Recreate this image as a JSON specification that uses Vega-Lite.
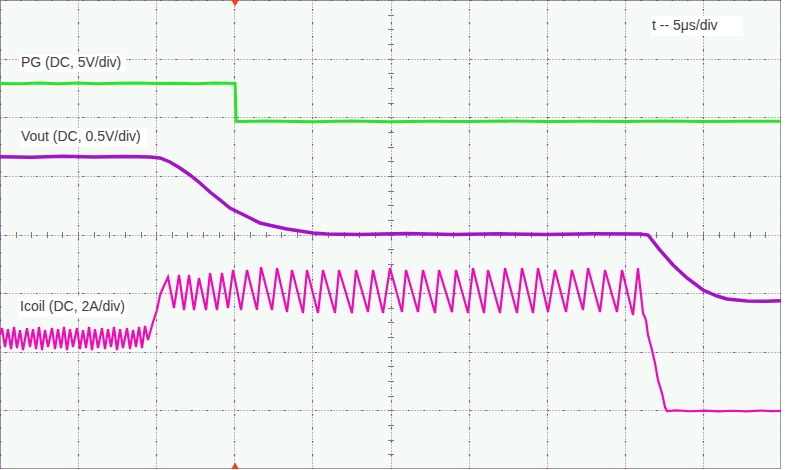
{
  "$schema": "https://vega.github.io/schema/vega-lite/v6.json",
  "width": 781,
  "height": 469,
  "autosize": {"type": "none"},
  "padding": 0,
  "background": "#ffffff",
  "view": {"fill": "#f6faf6", "stroke": "#7f7f7f", "strokeWidth": 1.5},
  "config": {
    "axis": {"labels": false, "ticks": false, "domain": false, "grid": false, "title": null}
  },
  "datasets": {
    "pg": [
      {"t": 0, "v": 2.577}, {"t": 1.3, "v": 2.57}, {"t": 2.5, "v": 2.585}, {"t": 3.7, "v": 2.572}, {"t": 5, "v": 2.583},
      {"t": 6.2, "v": 2.571}, {"t": 7.5, "v": 2.578}, {"t": 8.8, "v": 2.586}, {"t": 10, "v": 2.574}, {"t": 11.3, "v": 2.58},
      {"t": 12.5, "v": 2.571}, {"t": 13.8, "v": 2.584}, {"t": 15.05, "v": 2.577}, {"t": 15.12, "v": 1.928},
      {"t": 17, "v": 1.935}, {"t": 20, "v": 1.925}, {"t": 22.5, "v": 1.936}, {"t": 25, "v": 1.925}, {"t": 27.5, "v": 1.932},
      {"t": 30, "v": 1.926}, {"t": 32.5, "v": 1.934}, {"t": 35, "v": 1.926}, {"t": 37.5, "v": 1.933}, {"t": 40, "v": 1.927},
      {"t": 42.5, "v": 1.935}, {"t": 45, "v": 1.927}, {"t": 47.5, "v": 1.932}, {"t": 50, "v": 1.93}
    ],
    "vout": [
      {"t": 0, "v": 1.328}, {"t": 2, "v": 1.318}, {"t": 4, "v": 1.335}, {"t": 6, "v": 1.32}, {"t": 8, "v": 1.33},
      {"t": 9.6, "v": 1.323}, {"t": 10.24, "v": 1.305}, {"t": 10.88, "v": 1.237}, {"t": 11.52, "v": 1.135},
      {"t": 12.16, "v": 1.015}, {"t": 12.8, "v": 0.879}, {"t": 13.44, "v": 0.725}, {"t": 14.08, "v": 0.589},
      {"t": 14.72, "v": 0.452}, {"t": 15.36, "v": 0.367}, {"t": 16.01, "v": 0.282}, {"t": 16.65, "v": 0.196},
      {"t": 17.48, "v": 0.145}, {"t": 18.37, "v": 0.094}, {"t": 19.21, "v": 0.06}, {"t": 20.04, "v": 0.026},
      {"t": 20.93, "v": 0.009}, {"t": 23, "v": 0.0}, {"t": 26, "v": 0.015}, {"t": 29, "v": 0.0}, {"t": 32, "v": 0.012},
      {"t": 35, "v": 0.0}, {"t": 38, "v": 0.012}, {"t": 40.97, "v": 0.009}, {"t": 41.49, "v": -0.009},
      {"t": 42.25, "v": -0.265}, {"t": 43.09, "v": -0.52}, {"t": 43.98, "v": -0.742}, {"t": 45.01, "v": -0.947},
      {"t": 45.9, "v": -1.049}, {"t": 46.54, "v": -1.101}, {"t": 47.82, "v": -1.135}, {"t": 49, "v": -1.14}, {"t": 50, "v": -1.13}
    ],
    "icoil": [
      {"t": 0, "v": -1.715}, {"t": 0.128, "v": -1.596}, {"t": 0.32, "v": -1.92}, {"t": 0.512, "v": -1.613},
      {"t": 0.704, "v": -1.954}, {"t": 0.896, "v": -1.578}, {"t": 1.088, "v": -1.937}, {"t": 1.28, "v": -1.63},
      {"t": 1.472, "v": -1.971}, {"t": 1.729, "v": -1.596}, {"t": 1.921, "v": -1.92}, {"t": 2.113, "v": -1.613},
      {"t": 2.305, "v": -1.954}, {"t": 2.497, "v": -1.578}, {"t": 2.689, "v": -1.971}, {"t": 2.881, "v": -1.63},
      {"t": 3.073, "v": -1.92}, {"t": 3.329, "v": -1.596}, {"t": 3.521, "v": -1.954}, {"t": 3.713, "v": -1.613},
      {"t": 3.905, "v": -1.937}, {"t": 4.097, "v": -1.578}, {"t": 4.289, "v": -1.971}, {"t": 4.481, "v": -1.613},
      {"t": 4.673, "v": -1.92}, {"t": 4.93, "v": -1.596}, {"t": 5.122, "v": -1.954}, {"t": 5.314, "v": -1.63},
      {"t": 5.506, "v": -1.937}, {"t": 5.698, "v": -1.578}, {"t": 5.89, "v": -1.971}, {"t": 6.082, "v": -1.613},
      {"t": 6.274, "v": -1.937}, {"t": 6.53, "v": -1.596}, {"t": 6.722, "v": -1.954}, {"t": 6.914, "v": -1.613},
      {"t": 7.106, "v": -1.92}, {"t": 7.298, "v": -1.578}, {"t": 7.49, "v": -1.971}, {"t": 7.682, "v": -1.613},
      {"t": 7.874, "v": -1.937}, {"t": 8.131, "v": -1.596}, {"t": 8.323, "v": -1.954}, {"t": 8.515, "v": -1.63},
      {"t": 8.707, "v": -1.92}, {"t": 8.899, "v": -1.578}, {"t": 9.091, "v": -1.937}, {"t": 9.283, "v": -1.561},
      {"t": 9.475, "v": -1.8}, {"t": 9.603, "v": -1.681}, {"t": 9.795, "v": -1.493}, {"t": 10.051, "v": -1.288},
      {"t": 10.243, "v": -1.032}, {"t": 10.435, "v": -0.913}, {"t": 10.755, "v": -0.725},
      {"t": 11.139, "v": -1.254}, {"t": 11.46, "v": -0.691}, {"t": 11.78, "v": -1.288}, {"t": 12.1, "v": -0.691},
      {"t": 12.42, "v": -1.288}, {"t": 12.74, "v": -0.742}, {"t": 13.188, "v": -1.288}, {"t": 13.444, "v": -0.657},
      {"t": 13.892, "v": -1.288}, {"t": 14.212, "v": -0.657}, {"t": 14.597, "v": -1.254}, {"t": 14.917, "v": -0.606},
      {"t": 15.429, "v": -1.288}, {"t": 15.813, "v": -0.606}, {"t": 16.453, "v": -1.288}, {"t": 16.709, "v": -0.555},
      {"t": 17.413, "v": -1.288}, {"t": 17.734, "v": -0.572}, {"t": 18.374, "v": -1.323}, {"t": 18.694, "v": -0.606},
      {"t": 19.398, "v": -1.34}, {"t": 19.654, "v": -0.606}, {"t": 20.358, "v": -1.34}, {"t": 20.678, "v": -0.606},
      {"t": 21.447, "v": -1.34}, {"t": 21.703, "v": -0.606}, {"t": 22.535, "v": -1.34}, {"t": 22.791, "v": -0.606},
      {"t": 23.559, "v": -1.323}, {"t": 23.879, "v": -0.606}, {"t": 24.52, "v": -1.34}, {"t": 24.968, "v": -0.572},
      {"t": 25.736, "v": -1.323}, {"t": 25.992, "v": -0.606}, {"t": 26.76, "v": -1.323}, {"t": 27.08, "v": -0.606},
      {"t": 27.849, "v": -1.34}, {"t": 28.105, "v": -0.606}, {"t": 28.937, "v": -1.323}, {"t": 29.193, "v": -0.606},
      {"t": 29.961, "v": -1.34}, {"t": 30.281, "v": -0.572}, {"t": 30.986, "v": -1.34}, {"t": 31.242, "v": -0.606},
      {"t": 32.01, "v": -1.34}, {"t": 32.33, "v": -0.572}, {"t": 33.098, "v": -1.34}, {"t": 33.418, "v": -0.572},
      {"t": 34.123, "v": -1.34}, {"t": 34.443, "v": -0.572}, {"t": 35.083, "v": -1.323}, {"t": 35.531, "v": -0.606},
      {"t": 36.235, "v": -1.323}, {"t": 36.619, "v": -0.606}, {"t": 37.324, "v": -1.288}, {"t": 37.644, "v": -0.572},
      {"t": 38.412, "v": -1.323}, {"t": 38.732, "v": -0.606}, {"t": 39.5, "v": -1.323}, {"t": 39.82, "v": -0.606},
      {"t": 40.525, "v": -1.374}, {"t": 40.845, "v": -0.572},
      {"t": 41.165, "v": -1.34}, {"t": 41.357, "v": -1.459}, {"t": 41.485, "v": -1.715}, {"t": 41.741, "v": -1.971},
      {"t": 41.933, "v": -2.193}, {"t": 42.125, "v": -2.483}, {"t": 42.381, "v": -2.705}, {"t": 42.573, "v": -2.944},
      {"t": 42.701, "v": -3.012}, {"t": 43.3, "v": -3.0}, {"t": 44.2, "v": -3.015}, {"t": 45.1, "v": -3.004},
      {"t": 46.0, "v": -3.018}, {"t": 46.9, "v": -3.006}, {"t": 47.8, "v": -3.016}, {"t": 48.7, "v": -3.003},
      {"t": 49.4, "v": -3.014}, {"t": 50, "v": -3.008}
    ],
    "labels": [
      {"text": "PG (DC, 5V/div)", "t": 1.34, "v": 2.918, "t1": 1.216, "t2": 8.067, "v1": 3.063, "v2": 2.773},
      {"text": "Vout (DC, 0.5V/div)", "t": 1.34, "v": 1.664, "t1": 1.28, "t2": 9.411, "v1": 1.817, "v2": 1.493},
      {"text": "Icoil (DC, 2A/div)", "t": 1.28, "v": -1.237, "t1": 1.152, "t2": 8.131, "v1": -1.067, "v2": -1.408},
      {"text": "t -- 5μs/div", "t": 41.74, "v": 3.558, "t1": 41.68, "t2": 47.57, "v1": 3.729, "v2": 3.387}
    ],
    "trigger": [
      {"t": 15.05, "v": 4, "shape": "triangle-down"},
      {"t": 15.05, "v": -4, "shape": "triangle-up"}
    ],
    "refs": [
      {"t": 50.35, "v": 2.312, "ch": "PG"},
      {"t": 50.35, "v": 2.005, "ch": "Vout"},
      {"t": 50.35, "v": -0.998, "ch": "Icoil"},
      {"t": 50.35, "v": -3.012, "ch": "Icoil"}
    ]
  },
  "resolve": {"axis": {"x": "independent", "y": "independent"}},
  "layer": [
    {
      "data": {"name": "pg"},
      "mark": {"type": "line", "color": "#2be32b", "strokeWidth": 3, "clip": true},
      "encoding": {
        "x": {"field": "t", "type": "quantitative", "scale": {"domain": [0, 50], "nice": false, "zero": false},
              "axis": {"orient": "bottom", "values": [0,5,10,15,20,25,30,35,40,45,50], "grid": true,
                       "gridColor": "#7a7a7a", "gridDash": [1, 2], "gridWidth": 1, "title": null}},
        "y": {"field": "v", "type": "quantitative", "scale": {"domain": [-4, 4], "nice": false, "zero": false},
              "axis": {"orient": "left", "values": [-4,-3,-2,-1,0,1,2,3,4], "grid": true,
                       "gridColor": "#7a7a7a", "gridDash": [1, 2], "gridWidth": 1, "title": null}}
      }
    },
    {
      "data": {"name": "vout"},
      "mark": {"type": "line", "color": "#a414c6", "strokeWidth": 3.5, "clip": true},
      "encoding": {
        "x": {"field": "t", "type": "quantitative", "scale": {"domain": [0, 50], "nice": false, "zero": false},
              "axis": {"orient": "bottom", "offset": -237.5, "ticks": true, "tickSize": 6, "tickColor": "#7a7a7a", "tickWidth": 1,
                       "values": [0,1,2,3,4,5,6,7,8,9,10,11,12,13,14,15,16,17,18,19,20,21,22,23,24,25,26,27,28,29,30,31,32,33,34,35,36,37,38,39,40,41,42,43,44,45,46,47,48,49,50],
                       "title": null}},
        "y": {"field": "v", "type": "quantitative", "scale": {"domain": [-4, 4], "nice": false, "zero": false},
              "axis": {"orient": "left", "offset": -393.5, "ticks": true, "tickSize": 6, "tickColor": "#7a7a7a", "tickWidth": 1,
                       "values": [-4,-3.75,-3.5,-3.25,-3,-2.75,-2.5,-2.25,-2,-1.75,-1.5,-1.25,-1,-0.75,-0.5,-0.25,0,0.25,0.5,0.75,1,1.25,1.5,1.75,2,2.25,2.5,2.75,3,3.25,3.5,3.75,4],
                       "title": null}}
      }
    },
    {
      "data": {"name": "icoil"},
      "mark": {"type": "line", "color": "#f00cb4", "strokeWidth": 2.2, "clip": true},
      "encoding": {
        "x": {"field": "t", "type": "quantitative", "scale": {"domain": [0, 50], "nice": false, "zero": false},
              "axis": {"orient": "top", "values": [0,5,10,15,20,25,30,35,40,45,50], "grid": true,
                       "gridColor": "#9a1ad0", "gridDash": [1.5, 12], "gridWidth": 1.2, "title": null}},
        "y": {"field": "v", "type": "quantitative", "scale": {"domain": [-4, 4], "nice": false, "zero": false},
              "axis": {"orient": "right", "values": [-4,-3,-2,-1,0,1,2,3,4], "grid": true,
                       "gridColor": "#9a1ad0", "gridDash": [1.5, 14], "gridWidth": 1.2, "title": null}}
      }
    },
    {
      "data": {"name": "labels"},
      "mark": {"type": "rect", "color": "#ffffff"},
      "encoding": {
        "x": {"field": "t1", "type": "quantitative", "axis": null},
        "x2": {"field": "t2"},
        "y": {"field": "v1", "type": "quantitative", "axis": null},
        "y2": {"field": "v2"}
      }
    },
    {
      "data": {"name": "labels"},
      "mark": {"type": "text", "align": "left", "baseline": "middle", "font": "Liberation Sans", "fontSize": 14, "color": "#404040"},
      "encoding": {
        "x": {"field": "t", "type": "quantitative", "axis": null},
        "y": {"field": "v", "type": "quantitative", "axis": null},
        "text": {"field": "text"}
      }
    },
    {
      "data": {"name": "trigger"},
      "mark": {"type": "point", "filled": true, "color": "#ff3a10", "size": 220, "opacity": 1, "clip": false},
      "encoding": {
        "x": {"field": "t", "type": "quantitative", "axis": null},
        "y": {"field": "v", "type": "quantitative", "axis": null},
        "shape": {"field": "shape", "type": "nominal", "scale": null}
      }
    },
    {
      "data": {"name": "refs"},
      "mark": {"type": "point", "filled": true, "shape": "triangle-left", "size": 22, "opacity": 1, "clip": false},
      "encoding": {
        "x": {"field": "t", "type": "quantitative", "axis": null},
        "y": {"field": "v", "type": "quantitative", "axis": null},
        "color": {"field": "ch", "type": "nominal", "legend": null,
                  "scale": {"domain": ["PG", "Vout", "Icoil"], "range": ["#2be32b", "#a414c6", "#f00cb4"]}}
      }
    }
  ]
}
